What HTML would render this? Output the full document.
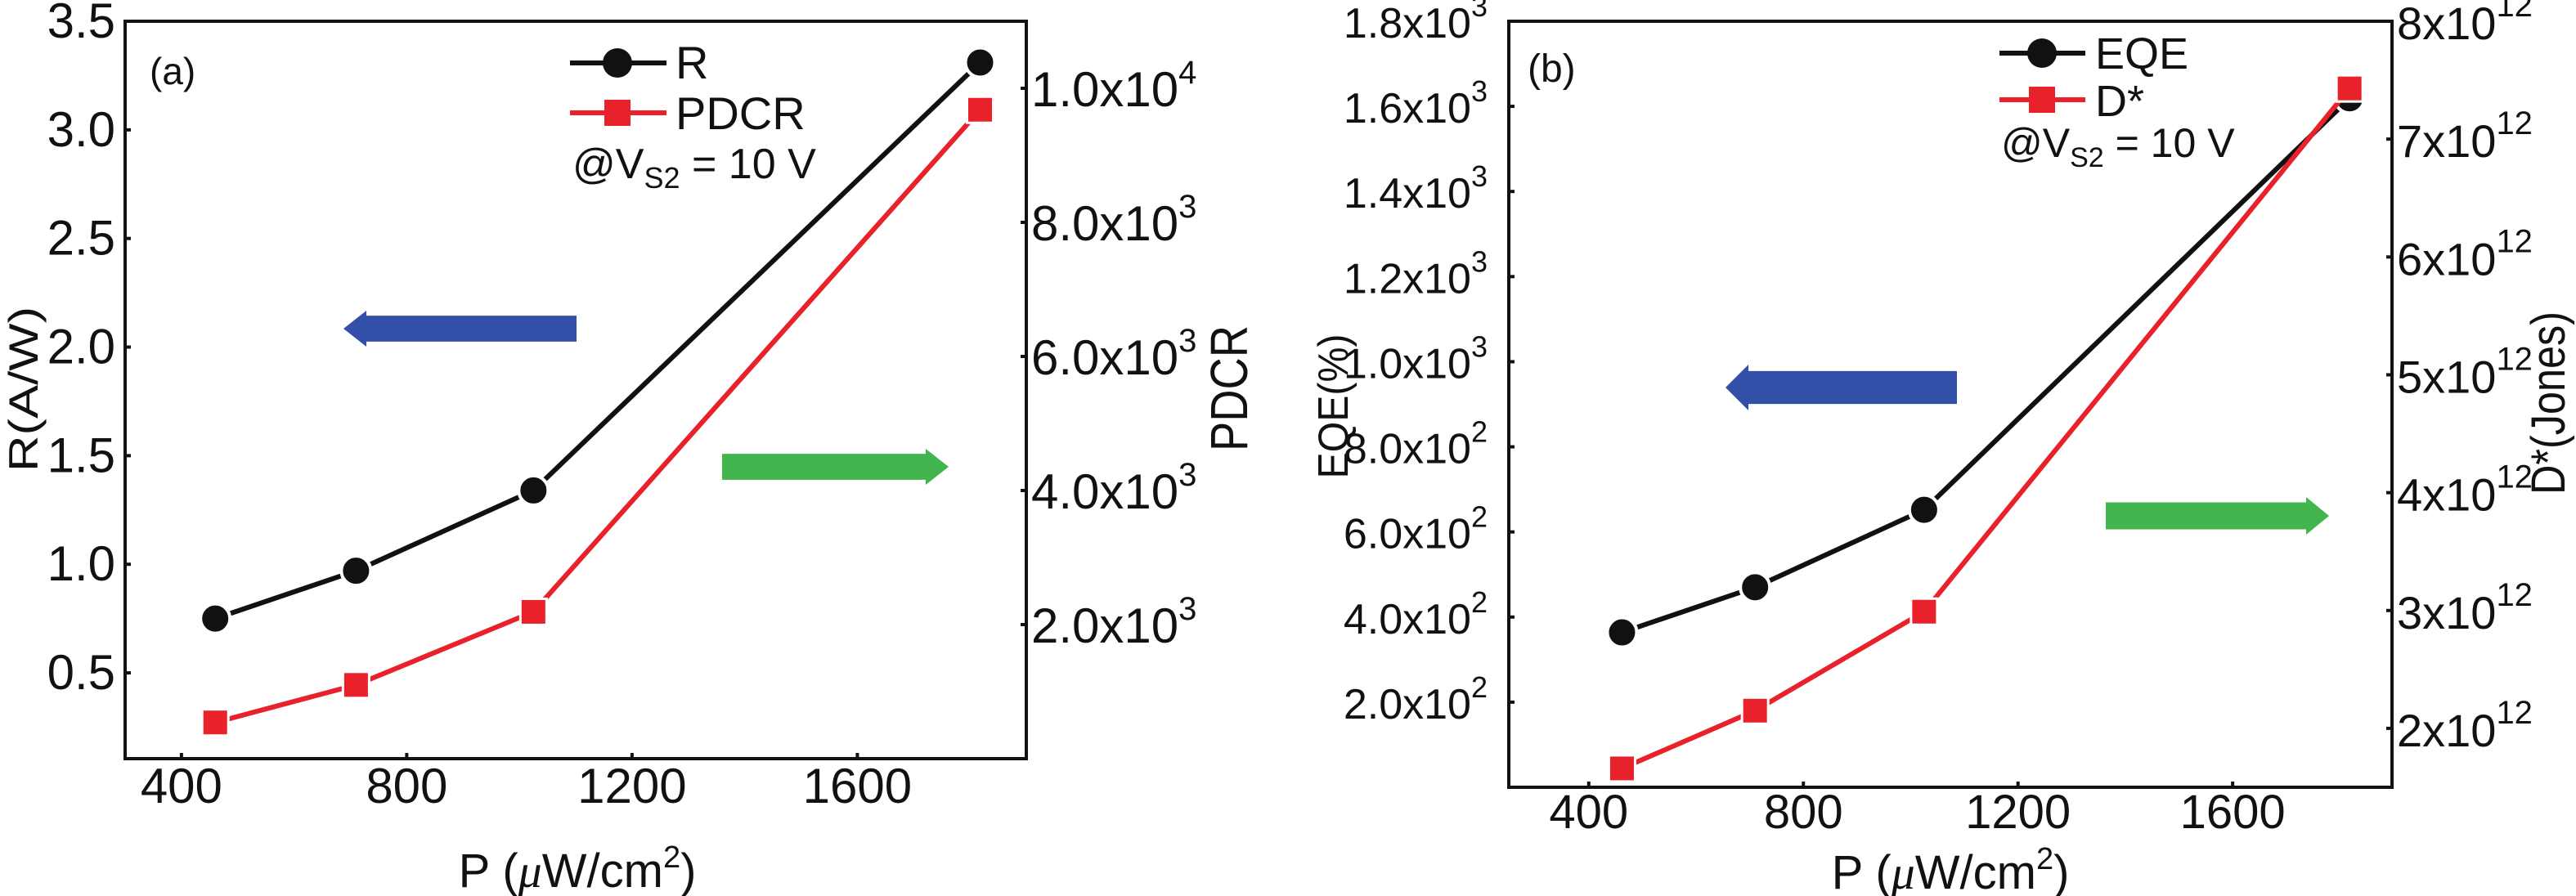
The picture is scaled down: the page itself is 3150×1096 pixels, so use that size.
<!DOCTYPE html>
<html><head><meta charset="utf-8">
<style>
html,body{margin:0;padding:0;background:#fff;}
svg{display:block;font-family:"Liberation Sans",Arial,sans-serif;}
</style></head>
<body>
<svg id="chart" width="3150" height="1096" viewBox="0 0 3150 1096" xmlns="http://www.w3.org/2000/svg"></svg>
<script>
const powerA = [460, 710, 1025, 1818];
const respA = [0.75, 0.97, 1.34, 3.31];
const pdcrA = [540, 1100, 2190, 9680];
const powerB = [462, 710, 1025, 1818];
const eqeB = [364, 470, 652, 1619];
const dstarB = [1.66, 2.15, 2.99, 7.43];
const xTicks = [400, 800, 1200, 1600];
const rTicks = [0.5, 1.0, 1.5, 2.0, 2.5, 3.0, 3.5];
const pdcrTicks = [2000, 4000, 6000, 8000, 10000];
const pdcrLabels = ["2.0x10", "4.0x10", "6.0x10", "8.0x10", "1.0x10"];
const pdcrExp = ["3", "3", "3", "3", "4"];
const eqeTicks = [200, 400, 600, 800, 1000, 1200, 1400, 1600, 1800];
const eqeLabels = ["2.0x10", "4.0x10", "6.0x10", "8.0x10", "1.0x10", "1.2x10", "1.4x10", "1.6x10", "1.8x10"];
const eqeExp = ["2", "2", "2", "2", "3", "3", "3", "3", "3"];
const dTicks = [2, 3, 4, 5, 6, 7, 8];

const svg = document.getElementById('chart');
const NS = 'http://www.w3.org/2000/svg';
function mk(tag, attrs, parent) {
  const e = document.createElementNS(NS, tag);
  for (const k in attrs) e.setAttribute(k, attrs[k]);
  (parent || svg).appendChild(e);
  return e;
}
function lin(d0, d1, r0, r1) { return v => r0 + (v - d0) * (r1 - r0) / (d1 - d0); }

function panel(cfg) {
  const g = mk('g', {});
  
  
  const x = lin(cfg.xd[0], cfg.xd[1], cfg.L, cfg.R);
  const yl = lin(cfg.yld[0], cfg.yld[1], cfg.B, cfg.T);
  const yr = lin(cfg.yrd[0], cfg.yrd[1], cfg.B, cfg.T);
  const box = mk('rect', {x: cfg.L, y: cfg.T, width: cfg.R - cfg.L, height: cfg.B - cfg.T, fill: 'none', stroke: '#111', 'stroke-width': 4}, g);
  
  
  xTicks.forEach(t => {
    const px = x(t);
    mk('line', {x1: px, x2: px, y1: cfg.B, y2: cfg.B - 7, stroke: '#111', 'stroke-width': 4}, g);
    const tx = mk('text', {x: px, y: cfg.B + cfg.xOff, 'font-size': cfg.xfs, 'text-anchor': 'middle', fill: '#111'}, g);
    tx.textContent = t;
    
    
  });
  cfg.lt.forEach((t, i) => {
    const py = yl(t);
    mk('line', {x1: cfg.L, x2: cfg.L + 7, y1: py, y2: py, stroke: '#111', 'stroke-width': 4}, g);
    const tx = mk('text', {x: cfg.L - cfg.lOff, y: py + 20, 'font-size': cfg.lfs, 'text-anchor': 'end', fill: '#111'}, g);
    
    
    if (cfg.llab) {
      tx.textContent = cfg.llab[i];
      const s = mk('tspan', {dy: -26, 'font-size': 36}, tx); s.textContent = cfg.lexp[i];
    } else tx.textContent = t.toFixed(1);
  });
  cfg.rt.forEach((t, i) => {
    const py = yr(t);
    mk('line', {x1: cfg.R, x2: cfg.R - 7, y1: py, y2: py, stroke: '#111', 'stroke-width': 4}, g);
    const tx = mk('text', {x: cfg.R + 6, y: py + 22, 'font-size': cfg.rfs, fill: '#111'}, g);
    
    
    tx.textContent = cfg.rlab[i];
    const s = mk('tspan', {dy: -28, 'font-size': 40}, tx); s.textContent = cfg.rexp[i];
  });
  function series(xs, ys, ysc, color, marker, nm) {
    const sg = mk('g', {}, g);
    
    
    const pts = xs.map((v, i) => x(v) + ',' + ysc(ys[i])).join(' ');
    mk('polyline', {points: pts, fill: 'none', stroke: color, 'stroke-width': 6}, sg);
    xs.forEach((v, i) => {
      const px = x(v), py = ysc(ys[i]);
      let m;
      if (marker === 'c') m = mk('circle', {cx: px, cy: py, r: 18, fill: '#111', stroke: '#fff', 'stroke-width': 4}, sg);
      else m = mk('rect', {x: px - 16, y: py - 16, width: 32, height: 32, fill: '#e8212a', stroke: '#fff', 'stroke-width': 3}, sg);
      
      
    });
  }
  series(cfg.px, cfg.ly, yl, '#111', 'c', cfg.s1);
  series(cfg.px, cfg.ry, yr, '#e8212a', 's', cfg.s2);
  return g;
}

panel({name: 'panel-a', L: 153, R: 1255, T: 26, B: 928, xd: [300, 1900], yld: [0.105, 3.5], yrd: [0, 11000],
  xOff: 54, xfs: 60,
  lt: rTicks, lOff: 12, lfs: 60, rt: pdcrTicks, rlab: pdcrLabels, rexp: pdcrExp, rfs: 60,
  px: powerA, ly: respA, ry: pdcrA, s1: 'series-r', s2: 'series-pdcr'});
panel({name: 'panel-b', L: 1845, R: 2925, T: 26, B: 963, xd: [251, 1897], yld: [0, 1800], yrd: [1.5, 8],
  xOff: 50, xfs: 58,
  lt: eqeTicks, llab: eqeLabels, lexp: eqeExp, lOff: 26, lfs: 52, rt: dTicks, rlab: dTicks.map(v => v + 'x10'), rexp: dTicks.map(() => '12'), rfs: 56,
  px: powerB, ly: eqeB, ry: dstarB, s1: 'series-eqe', s2: 'series-dstar'});

function arrow(x0, x1, yc, h, dir, color, nm) {
  const sh = h * 0.72, hl = 28;
  let d;
  if (dir < 0) d = `M${x0},${yc} L${x0+hl},${yc-h/2} L${x0+hl},${yc-sh/2} L${x1},${yc-sh/2} L${x1},${yc+sh/2} L${x0+hl},${yc+sh/2} L${x0+hl},${yc+h/2} Z`;
  else d = `M${x1},${yc} L${x1-hl},${yc-h/2} L${x1-hl},${yc-sh/2} L${x0},${yc-sh/2} L${x0},${yc+sh/2} L${x1-hl},${yc+sh/2} L${x1-hl},${yc+h/2} Z`;
  const p = mk('path', {d: d, fill: color});
  
  
}
arrow(420, 705, 402, 44, -1, '#3350a8', 'left-axis-arrow-a');
arrow(883, 1160, 571, 44, 1, '#43b54f', 'right-axis-arrow-a');
arrow(2110, 2393, 474, 56, -1, '#3350a8', 'left-axis-arrow-b');
arrow(2575, 2848, 631, 46, 1, '#43b54f', 'right-axis-arrow-b');
</script>
<script>
(function(){
const NS='http://www.w3.org/2000/svg';
const svg=document.getElementById('chart');
function add(html){ const g=document.createElementNS(NS,'g'); g.innerHTML=html; svg.appendChild(g); }
add(`
<text x="183" y="103" font-size="46" fill="#111">(a)</text>
<g>
 <line x1="697" y1="77" x2="815" y2="77" stroke="#111" stroke-width="6"/>
 <circle cx="755" cy="77" r="18" fill="#111"/>
 <text x="826" y="96" font-size="56" fill="#111">R</text>
 <line x1="697" y1="138" x2="815" y2="138" stroke="#e8212a" stroke-width="6"/>
 <rect x="739" y="122" width="32" height="32" fill="#e8212a"/>
 <text x="826" y="158" font-size="56" fill="#111">PDCR</text>
 <text x="700" y="218" font-size="52" fill="#111">@V<tspan font-size="36" dy="12">S2</tspan><tspan dy="-12"> = 10 V</tspan></text>
</g>
<text transform="translate(46,476) rotate(-90)" font-size="50" text-anchor="middle" textLength="202" lengthAdjust="spacingAndGlyphs" fill="#111">R(A/W)</text>
<text transform="translate(1525,475) rotate(-90)" font-size="64" text-anchor="middle" textLength="154" lengthAdjust="spacingAndGlyphs" fill="#111">PDCR</text>
<text x="706" y="1085" font-size="58" text-anchor="middle" fill="#111">P (<tspan font-family="Liberation Serif, serif" font-style="italic">μ</tspan>W/cm<tspan font-size="38" dy="-24">2</tspan><tspan dy="24">)</tspan></text>

<text x="1868" y="100" font-size="48" fill="#111">(b)</text>
<g>
 <line x1="2445" y1="65" x2="2550" y2="65" stroke="#111" stroke-width="6"/>
 <circle cx="2497" cy="65" r="18" fill="#111"/>
 <text x="2562" y="84" font-size="54" fill="#111">EQE</text>
 <line x1="2445" y1="122" x2="2550" y2="122" stroke="#e8212a" stroke-width="6"/>
 <rect x="2481" y="106" width="32" height="32" fill="#e8212a"/>
 <text x="2562" y="142" font-size="54" fill="#111">D*</text>
 <text x="2447" y="192" font-size="50" fill="#111">@V<tspan font-size="34" dy="12">S2</tspan><tspan dy="-12"> = 10 V</tspan></text>
</g>
<text transform="translate(1648,497) rotate(-90)" font-size="52" text-anchor="middle" textLength="177" lengthAdjust="spacingAndGlyphs" fill="#111">EQE(%)</text>
<text transform="translate(3136,493) rotate(-90)" font-size="58" text-anchor="middle" textLength="224" lengthAdjust="spacingAndGlyphs" fill="#111">D*(Jones)</text>
<text x="2385" y="1087" font-size="58" text-anchor="middle" fill="#111">P (<tspan font-family="Liberation Serif, serif" font-style="italic">μ</tspan>W/cm<tspan font-size="38" dy="-24">2</tspan><tspan dy="24">)</tspan></text>
`);
})();
</script>
</body></html>
